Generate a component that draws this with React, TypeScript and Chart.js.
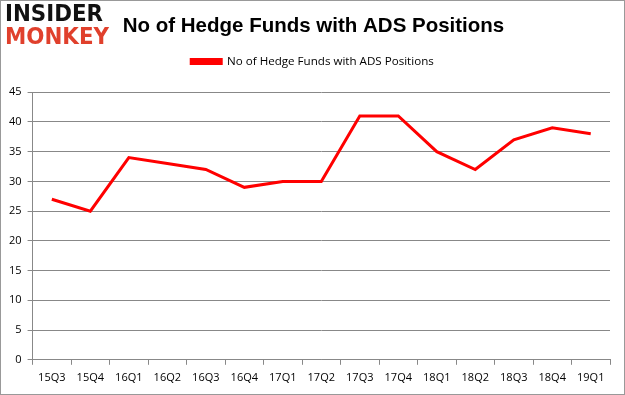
import React, { useEffect, useRef } from "react";
import { Chart, registerables } from "chart.js";

Chart.register(...registerables);

const categories = ["15Q3","15Q4","16Q1","16Q2","16Q3","16Q4","17Q1","17Q2","17Q3","17Q4","18Q1","18Q2","18Q3","18Q4","19Q1"];
const hedgeFunds = [27, 25, 34, 33, 32, 29, 30, 30, 41, 41, 35, 32, 37, 39, 38];
const seriesLabel = "No of Hedge Funds with ADS Positions";
const titleText = "No of Hedge Funds with ADS Positions";

const legendGap = {
  id: "legendGap",
  beforeInit(chart: any) {
    const orig = chart.legend.fit;
    chart.legend.fit = function () {
      orig.call(this);
      this.height += 15;
    };
  },
  afterLayout(chart: any) {
    if (chart.titleBlock) {
      chart.titleBlock.left += 7;
      chart.titleBlock.right += 7;
    }
    if (chart.legend) {
      chart.legend.left += 6;
      chart.legend.right += 6;
    }
  },
};

export default function App() {
  const ref = useRef<HTMLCanvasElement>(null);
  useEffect(() => {
    document.body.style.margin = "0";
    const ctx = ref.current!;
    const chart = new Chart(ctx, {
      type: "line",
      data: {
        labels: categories,
        datasets: [{
          label: seriesLabel,
          data: hedgeFunds,
          borderColor: "#ff0000",
          backgroundColor: "#ff0000",
          borderWidth: 3,
          pointRadius: 0,
          tension: 0,
        }],
      },
      plugins: [legendGap],
      options: {
        animation: false,
        responsive: false,
        layout: { padding: { top: 13, right: 14, left: 2, bottom: 4 } },
        plugins: {
          title: {
            display: true,
            text: titleText,
            color: "#000",
            font: { family: "Liberation Sans, Arial", size: 20.5, weight: "bold" },
            padding: { top: 0, bottom: 7 },
          },
          legend: {
            display: true,
            labels: {
              color: "#000",
              boxWidth: 30,
              boxHeight: 4,
              font: { family: "Open Sans, Liberation Sans", size: 11.6 },
              padding: 10,
            },
          },
          tooltip: { enabled: false },
        },
        scales: {
          x: {
            offset: true,
            grid: { offset: true, drawOnChartArea: false, drawTicks: true, tickLength: 5, color: "#888" },
            border: { color: "#888" },
            ticks: { color: "#000", font: { family: "Open Sans, Liberation Sans", size: 11 }, maxRotation: 0, padding: 6 },
          },
          y: {
            min: 0,
            max: 45,
            ticks: { stepSize: 5, color: "#000", font: { family: "Open Sans, Liberation Sans", size: 11 }, padding: 6 },
            grid: { color: "#888", tickLength: 5 },
            border: { color: "#888" },
          },
        },
      },
    });
    return () => chart.destroy();
  }, []);
  return (
    <div style={{ position: "relative", width: 625, height: 395, boxSizing: "border-box", border: "1px solid #999", background: "#fff" }}>
      <canvas ref={ref} width={623} height={393} style={{ display: "block" }} />
      <div style={{ position: "absolute", left: 4, top: 1, fontFamily: "DejaVu Sans, Liberation Sans", fontWeight: 900, lineHeight: "23px", transform: "scaleX(0.93)", transformOrigin: "left top" }}>
        <div style={{ color: "#111", fontSize: 23 }}>INSIDER</div>
        <div style={{ color: "#e0402c", fontSize: 23 }}>MONKEY</div>
      </div>
    </div>
  );
}
